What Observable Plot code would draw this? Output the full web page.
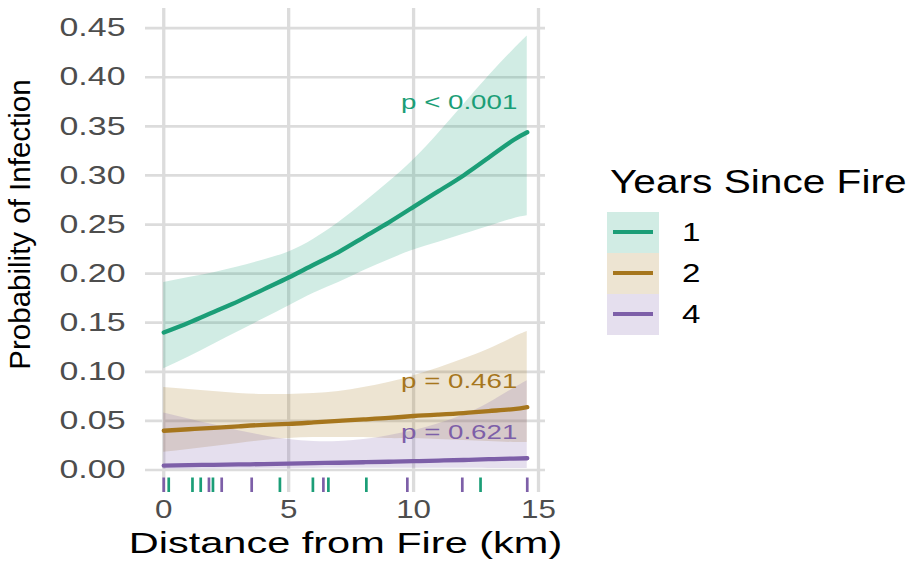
<!DOCTYPE html>
<html>
<head>
<meta charset="utf-8">
<script src="https://cdn.jsdelivr.net/npm/d3@7"></script>
<script src="https://cdn.jsdelivr.net/npm/@observablehq/plot@0.6"></script>
<style>
  body { margin: 0; background: #fff; }
  #wrap { position: relative; width: 914px; height: 577px; font-family: "Liberation Sans", Arial, sans-serif; }
  #legend { position: absolute; left: 607px; top: 166px; }
  #legend .title { font-size: 32.5px; line-height: 32.5px; height: 32.5px; margin-left: 3px; white-space: nowrap; transform: scaleX(1.25); transform-origin: left center; color: #000; }
  #legend .rows { margin-top: 13.2px; }
  #legend .row { display: flex; align-items: center; height: 41px; }
  #legend .key { position: relative; width: 52px; height: 41px; }
  #legend .key .ln { position: absolute; left: 6px; top: 18.5px; width: 40px; height: 4px; }
  #legend .lab { margin-left: 23px; font-size: 25.5px; line-height: 41px; color: #000; transform: scaleX(1.3); transform-origin: left center; }
</style>
</head>
<body>
<div id="wrap"><div id="legend"></div></div>
<script>
// ---- data ----
const years = ["1", "2", "4"];
const colors = ["#1B9E77", "#A6761D", "#7D5FA8"];

const distKm = [0, 1, 2, 3, 4, 5, 6, 7, 8, 9, 10, 11, 12, 13, 14, 14.55];

const fit1 = [0.140, 0.150, 0.161, 0.172, 0.184, 0.196, 0.209, 0.222, 0.237, 0.252, 0.268, 0.284, 0.300, 0.318, 0.336, 0.344];
const lo1  = [0.103, 0.115, 0.128, 0.141, 0.154, 0.167, 0.180, 0.191, 0.203, 0.214, 0.224, 0.232, 0.240, 0.248, 0.256, 0.259];
const hi1  = [0.191, 0.196, 0.201, 0.207, 0.214, 0.222, 0.235, 0.252, 0.272, 0.293, 0.316, 0.343, 0.372, 0.401, 0.428, 0.442];

const fit2 = [0.040, 0.0415, 0.043, 0.0445, 0.046, 0.047, 0.0485, 0.050, 0.0515, 0.053, 0.055, 0.0565, 0.058, 0.060, 0.062, 0.064];
const lo2  = [0.018, 0.021, 0.024, 0.027, 0.030, 0.032, 0.033, 0.033, 0.033, 0.032, 0.032, 0.031, 0.030, 0.029, 0.028, 0.028];
const hi2  = [0.084, 0.082, 0.080, 0.078, 0.077, 0.077, 0.078, 0.080, 0.084, 0.089, 0.096, 0.104, 0.113, 0.123, 0.135, 0.141];

const fit4 = [0.0045, 0.005, 0.0053, 0.0057, 0.006, 0.0065, 0.007, 0.0074, 0.0079, 0.0084, 0.009, 0.0096, 0.0102, 0.011, 0.0117, 0.012];
const lo4  = [0.0004, 0.0006, 0.0008, 0.001, 0.0012, 0.0014, 0.0016, 0.0017, 0.0018, 0.0018, 0.0018, 0.0018, 0.0017, 0.0016, 0.0015, 0.0015];
const hi4  = [0.058, 0.052, 0.046, 0.040, 0.035, 0.031, 0.029, 0.029, 0.031, 0.035, 0.040, 0.047, 0.056, 0.068, 0.083, 0.091];

const rug1 = [0.2, 1.15, 1.48, 1.97, 4.65, 5.97, 6.59, 8.11, 12.68];
const rug4 = [0.0, 1.81, 2.32, 3.52, 6.39, 9.75, 11.95, 14.55];

const pLabels = ["p < 0.001", "p = 0.461", "p = 0.621"];
const pX = [14.15, 14.15, 14.15];
const pY = [0.374, 0.090, 0.0387];

const xTicks = [0, 5, 10, 15];
const xTickLabels = ["0", "5", "10", "15"];
const yTicks = [0, 0.05, 0.10, 0.15, 0.20, 0.25, 0.30, 0.35, 0.40, 0.45];
const yTickLabels = ["0.00", "0.05", "0.10", "0.15", "0.20", "0.25", "0.30", "0.35", "0.40", "0.45"];

const xTitle = "Distance from Fire (km)";
const yTitle = "Probability of Infection";

// ---- tables built from the arrays ----
const series = [
  {year: "1", fit: fit1, lo: lo1, hi: hi1},
  {year: "2", fit: fit2, lo: lo2, hi: hi2},
  {year: "4", fit: fit4, lo: lo4, hi: hi4}
];
const fitRows = series.flatMap(s => distKm.map((x, i) => ({year: s.year, x, fit: s.fit[i], lo: s.lo[i], hi: s.hi[i]})));
const rugRows = [
  ...rug4.map(x => ({year: "4", x})),
  ...rug1.map(x => ({year: "1", x}))
];
const annot = pLabels.map((t, i) => ({t, x: pX[i], y: pY[i], year: years[i]}));

const colorOf = Object.fromEntries(years.map((y, i) => [y, colors[i]]));
const grid = "#dcdcdc";
const tickGrey = "#4d4d4d";

const plot = Plot.plot({
  width: 914,
  height: 577,
  marginLeft: 145,
  marginRight: 369,
  marginTop: 8,
  marginBottom: 85,
  style: {fontFamily: '"Liberation Sans", Arial, sans-serif', background: "transparent"},
  x: {domain: [-0.73, 15.28], axis: null},
  y: {domain: [-0.0229, 0.470], axis: null},
  color: {domain: years, range: colors},
  marks: [
    Plot.ruleY(yTicks, {stroke: grid, strokeWidth: 2.7}),
    Plot.ruleX(xTicks, {stroke: grid, strokeWidth: 3.3}),
    Plot.areaY(fitRows, {x: "x", y1: "lo", y2: "hi", z: "year", fill: "year", fillOpacity: 0.2, curve: "natural"}),
    Plot.line(fitRows, {x: "x", y: "fit", z: "year", stroke: "year", strokeWidth: 4.3, curve: "natural"}),
    Plot.ruleX(rugRows, {x: "x", stroke: "year", strokeWidth: 2.7, insetTop: 469.5}),
    Plot.text(annot, {x: "x", y: "y", text: "t", fill: d => colorOf[d.year], textAnchor: "end", fontSize: 20.5, ariaLabel: "annot"}),
    Plot.text(yTicks, {y: d => d, text: (d, i) => yTickLabels[i], frameAnchor: "left", textAnchor: "end", dx: -20, fontSize: 25.5, fill: tickGrey, ariaLabel: "ytick"}),
    Plot.text(xTicks, {x: d => d, text: (d, i) => xTickLabels[i], frameAnchor: "bottom", dy: 25.5, fontSize: 25.5, fill: tickGrey, ariaLabel: "xtick"}),
    Plot.text([xTitle], {text: d => d, frameAnchor: "bottom", textAnchor: "middle", dy: 60, fontSize: 30.3, fill: "#000", ariaLabel: "xtitle"}),
    Plot.text([yTitle], {text: d => d, frameAnchor: "left", textAnchor: "middle", dx: -125.3, dy: -26, rotate: -90, fontSize: 29.5, fill: "#000", ariaLabel: "ytitle"})
  ]
});

// horizontal stretch of texts, to match the reference's wide lettering
const markGroups = Array.from(plot.children).filter(n => n.tagName.toLowerCase() === "g");
function stretch(label, index, s) {
  let texts = Array.from(plot.querySelectorAll(`g[aria-label="${label}"] text, text[aria-label="${label}"]`));
  if (!texts.length && markGroups[index]) texts = Array.from(markGroups[index].querySelectorAll("text"));
  texts.forEach(t => {
    let tr = t.getAttribute("transform");
    if (!tr) {
      const x = t.getAttribute("x") || 0, y = t.getAttribute("y") || 0;
      t.removeAttribute("x"); t.removeAttribute("y");
      tr = `translate(${x},${y})`;
    }
    t.setAttribute("transform", tr + ` scale(${s},1)`);
  });
}
stretch("annot", 5, 1.35);
stretch("ytick", 6, 1.33);
stretch("xtick", 7, 1.23);
stretch("xtitle", 8, 1.37);

const wrap = document.getElementById("wrap");
wrap.insertBefore(plot, wrap.firstChild);
plot.style.position = "absolute";
plot.style.left = "0";
plot.style.top = "0";

// ---- legend ----
const legend = d3.select("#legend");
legend.append("div").attr("class", "title").text("Years Since Fire");
const rows = legend.append("div").attr("class", "rows");
years.forEach((y, i) => {
  const row = rows.append("div").attr("class", "row");
  const key = row.append("div").attr("class", "key")
    .style("background", d3.color(colors[i]).copy({opacity: 0.2}).formatRgb());
  key.append("div").attr("class", "ln").style("background", colors[i]);
  row.append("div").attr("class", "lab").text(y);
});
</script>
</body>
</html>
